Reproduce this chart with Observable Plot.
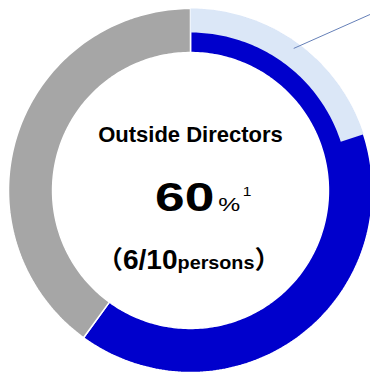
<!DOCTYPE html>
<html><head><meta charset="utf-8">
<script src="https://cdn.jsdelivr.net/npm/d3@7"></script>
<script src="https://cdn.jsdelivr.net/npm/@observablehq/plot@0.6"></script>
<style>
html,body{margin:0;padding:0;background:#fff;}
#chart{width:370px;height:376px;overflow:hidden;}
</style></head><body><div id="chart"></div>
<script>
// ---- data ----
const categories = ["Outside Directors", "Inside Directors"];
const persons = [6, 4];
const highlightedPersons = [2];          // light-blue outer band within outside directors
const noteMarks = ["1"];
const unitLabels = ["persons"];

const total = d3.sum(persons);
const share = Math.round(persons[0] / total * 100);

// ---- styles / layout ----
const segColors = ["#0000cc", "#a6a6a6"];
const highlightColor = "#dbe7f7";
const R_OUT = 1, R_MID = 0.868, R_IN = 0.758;
const FONT = "'Liberation Sans', Arial, sans-serif";
const CJK = "'Noto Sans CJK JP', sans-serif";

function arcPolygon(a0, a1, r0, r1, key) {
  const pts = [];
  const n = Math.max(2, Math.ceil(Math.abs(a1 - a0)));
  const rad = i => (a0 + (a1 - a0) * i / n) * Math.PI / 180;
  for (let i = 0; i <= n; i++) pts.push({key, x: r1 * Math.sin(rad(i)), y: r1 * Math.cos(rad(i))});
  for (let i = n; i >= 0; i--) pts.push({key, x: r0 * Math.sin(rad(i)), y: r0 * Math.cos(rad(i))});
  return pts;
}

const cum = [0, ...d3.cumsum(persons)];
const ring = categories.map((c, i) =>
  arcPolygon(cum[i] / total * 360, cum[i + 1] / total * 360, R_IN, R_OUT, c));
const hiEnd = highlightedPersons[0] / total * 360;
const overlay = arcPolygon(0, hiEnd, R_MID, R_OUT, "highlight");

const midA = hiEnd / 2 * Math.PI / 180, endA = 46 * Math.PI / 180;
const leader = [{x1: 0.965 * Math.sin(midA), y1: 0.965 * Math.cos(midA),
                 x2: 1.41 * Math.sin(endA), y2: 1.41 * Math.cos(endA)}];

const rows = [
  {id: "row1", text: categories[0], x: 0, y: 0.264},
  {id: "row2", text: `${share}%${noteMarks[0]}`, x: 0.07, y: -0.110},
  {id: "row3", text: `（${persons[0]}/${total}${unitLabels[0]}）`, x: -0.01, y: -0.429}
];

const svg = Plot.plot({
  width: 370, height: 376, margin: 0,
  x: {domain: [-190 / 182, 180 / 182], axis: null},
  y: {domain: [-186 / 182, 190 / 182], axis: null},
  style: {background: "white", fontFamily: FONT},
  marks: [
    ...ring.map((pts, i) => Plot.line(pts, {x: "x", y: "y", fill: segColors[i], stroke: "white",
      strokeWidth: 1.5, curve: "linear-closed", strokeLinejoin: "miter"})),
    Plot.line(overlay, {x: "x", y: "y", fill: highlightColor, stroke: "none", curve: "linear-closed"}),
    Plot.link(leader, {x1: "x1", y1: "y1", x2: "x2", y2: "y2", stroke: "#6680b8", strokeWidth: 1}),
    ...rows.map(r => Plot.text([r], {x: "x", y: "y", text: "text",
      lineAnchor: "bottom", textAnchor: "middle", fill: "#000"}))
  ]
});
document.getElementById("chart").appendChild(svg);

// ---- rich text for the center label ----
const textNodes = d3.select(svg).selectAll("text").nodes();
function richRow(idx, parts, scaleX) {
  const t = d3.select(textNodes[idx]);
  t.text(null);
  for (const p of parts) {
    const ts = t.append("tspan").text(p.text)
      .attr("font-size", p.size).attr("font-weight", p.weight || "bold")
      .attr("font-family", p.family || FONT);
    if (p.dx) ts.attr("dx", p.dx);
    if (p.dy) ts.attr("dy", p.dy);
  }
  if (scaleX) {
    const tr = t.attr("transform");
    t.attr("transform", (tr || "") + ` scale(${scaleX},1)`);
  }
}
richRow(0, [{text: categories[0], size: 22}]);
richRow(1, [
  {text: String(share), size: 41},
  {text: "%", size: 19, weight: "normal", dx: 3},
  {text: noteMarks[0], size: 12, weight: "normal", dx: 2, dy: -15}
], 1.3);
richRow(2, [
  {text: "（", size: 25, weight: "bold", family: CJK},
  {text: `${persons[0]}/${total}`, size: 27},
  {text: unitLabels[0], size: 19},
  {text: "）", size: 25, weight: "bold", family: CJK}
], 1.04);
</script></body></html>
